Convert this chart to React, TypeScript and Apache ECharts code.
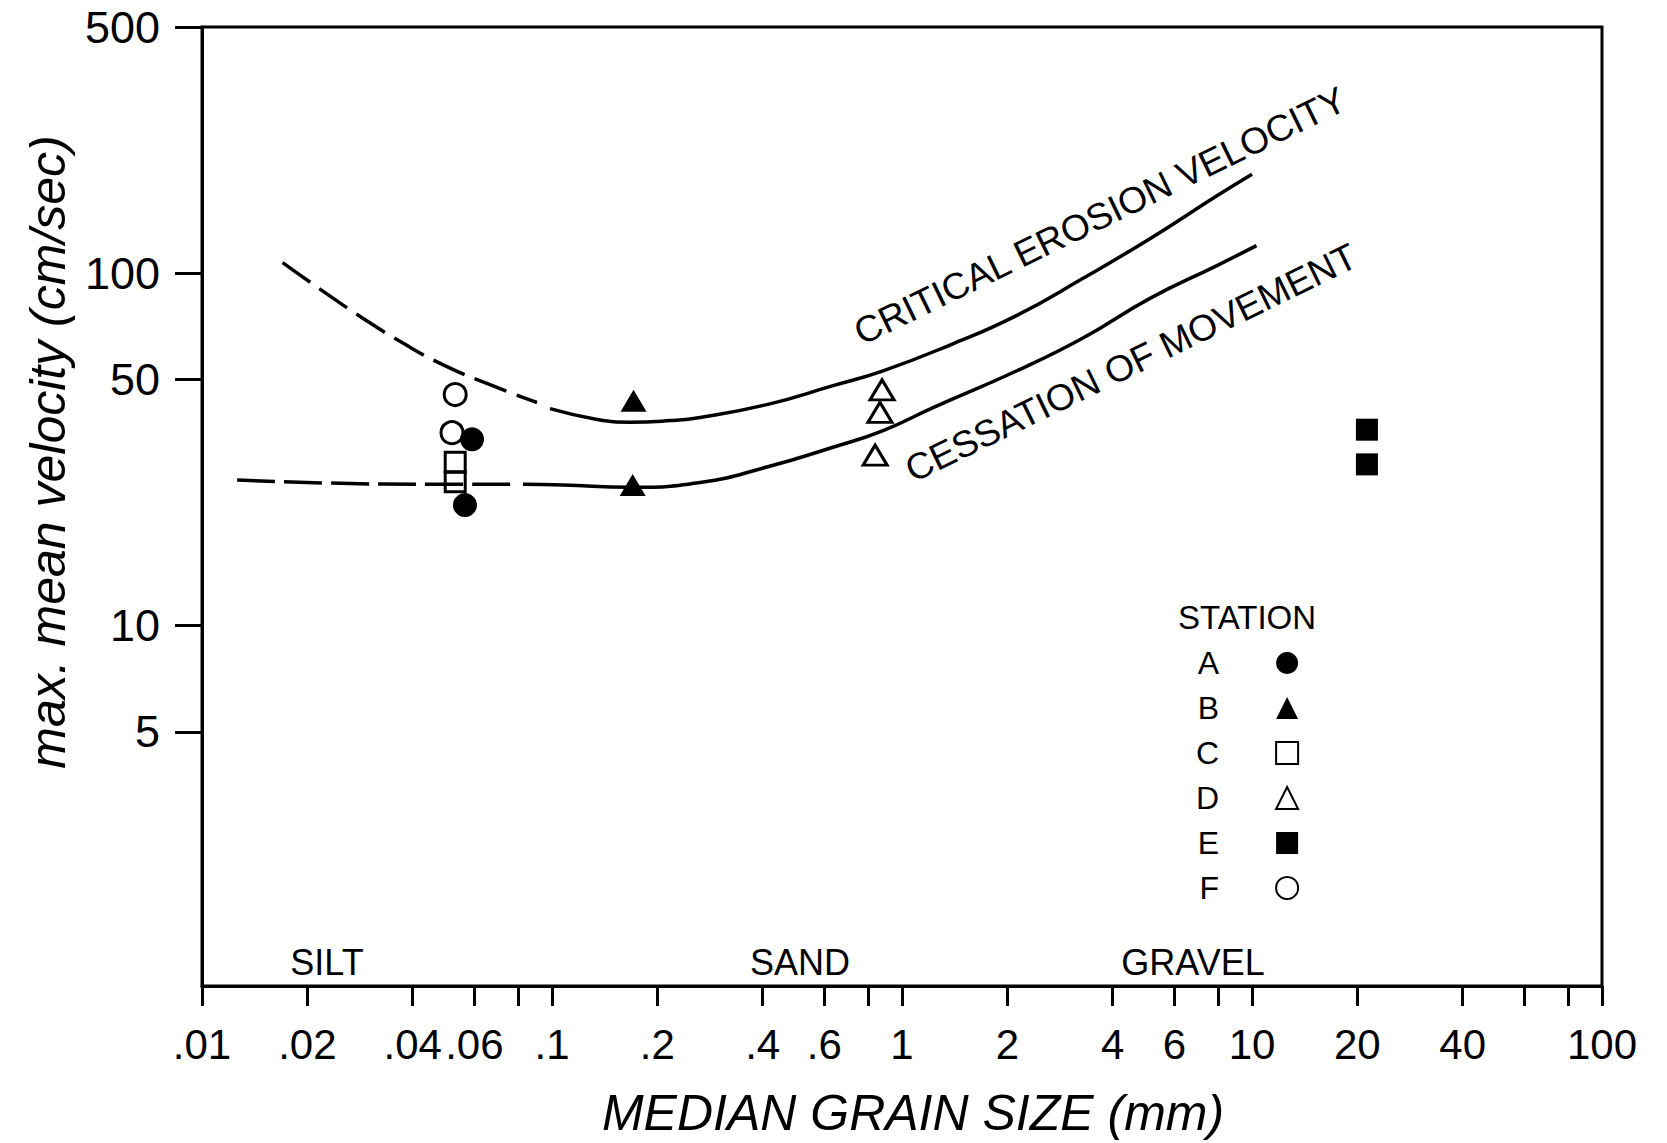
import React, { useEffect, useRef } from "react";
import * as echarts from "echarts";

// ---- Axis ticks / labels ----
const xTickValues = [0.01, 0.02, 0.04, 0.06, 0.08, 0.1, 0.2, 0.4, 0.6, 0.8, 1, 2, 4, 6, 8, 10, 20, 40, 60, 80, 100];
const xLabelValues = [0.01, 0.02, 0.04, 0.06, 0.1, 0.2, 0.4, 0.6, 1, 2, 4, 6, 10, 20, 40, 100];
const yTickValues = [5, 10, 50, 100, 500];

// ---- Station observations [median grain size mm, max mean velocity cm/s] ----
const stationA = [[0.0591, 33.8], [0.0564, 22.0]];
const stationB = [[0.171, 43.5], [0.170, 25.1]];
const stationC = [[0.0529, 29.1], [0.0529, 25.6]];
const stationD = [[0.877, 46.7], [0.865, 40.3], [0.838, 30.5]];
const stationE = [[21.3, 36.0], [21.3, 28.7]];
const stationF = [[0.0529, 45.3], [0.0518, 35.3]];

// ---- Curves ----
const erosionDashed = [[0.017, 107.3], [0.0222, 88.9], [0.0288, 74.6], [0.0375, 63.4], [0.0489, 55.0], [0.0665, 48.3], [0.0906, 43.0]];
const erosionSolid = [[0.0987, 41.3], [0.1345, 38.5], [0.167, 37.8], [0.217, 38.2], [0.265, 39.0], [0.411, 42.4], [0.635, 48.0], [0.883, 52.9], [1.371, 62.6], [2.13, 76.0], [3.29, 96.8], [5.11, 125.4], [7.94, 165.9], [10.0, 191]];
const cessationDashed = [[0.0126, 25.9], [0.0232, 25.4], [0.0448, 25.2], [0.080, 25.2]];
const cessationSolid = [[0.0826, 25.2], [0.1074, 25.1], [0.167, 24.7], [0.265, 25.5], [0.411, 28.2], [0.635, 32.1], [0.883, 35.8], [1.227, 41.6], [2.13, 52.9], [3.29, 65.5], [5.11, 84.9], [7.94, 105.2], [10.3, 119.8]];

const stationNames = ["A", "B", "C", "D", "E", "F"];

const FONT = '"Liberation Sans", Arial, Helvetica, sans-serif';
const BLACK = "#000";
const OPEN = { color: "rgba(255,255,255,0)", borderColor: BLACK, borderWidth: 3, opacity: 1 };
const FILLED = { color: BLACK, borderColor: BLACK, borderWidth: 0, opacity: 1 };

function fmtX(v: number) {
  const n = Number(Number(v).toPrecision(4));
  return n < 1 ? String(n).replace(/^0/, "") : String(n);
}

function txt(x: number, y: number, text: string, size: number, extra: any = {}) {
  return {
    type: "text",
    x,
    y,
    rotation: extra.rotation || 0,
    silent: true,
    style: {
      text,
      fill: BLACK,
      fontFamily: FONT,
      fontSize: size,
      fontStyle: extra.italic ? "italic" : "normal",
      align: "center",
      verticalAlign: "middle",
      textAlign: "center",
      textVerticalAlign: "middle",
    },
  };
}

export default function App() {
  const ref = useRef<HTMLDivElement>(null);
  useEffect(() => {
    const chart = echarts.init(ref.current!, null, { renderer: "svg" });
    const lineBase = {
      type: "line",
      symbol: "none",
      smooth: 0.5,
      silent: true,
      z: 2,
    };
    const scatterBase = { type: "scatter", z: 3, emphasis: { disabled: true }, silent: true };
    const option: any = {
      animation: false,
      backgroundColor: "#fff",
      grid: { left: 202, right: 65, top: 27, bottom: 151, show: true, borderColor: BLACK, borderWidth: 3, backgroundColor: "transparent" },
      xAxis: {
        type: "log",
        logBase: 10,
        min: 0.01,
        max: 100,
        name: "MEDIAN GRAIN SIZE (mm)",
        nameLocation: "middle",
        nameGap: 102,
        nameTextStyle: { fontFamily: FONT, fontSize: 50, fontStyle: "italic", color: BLACK, padding: [0, 0, 0, 22] },
        axisLine: { show: true, lineStyle: { color: BLACK, width: 3 } },
        axisTick: { show: true, inside: false, length: 20, lineStyle: { color: BLACK, width: 3 }, customValues: xTickValues },
        axisLabel: { customValues: xLabelValues, formatter: (v: number) => fmtX(v), margin: 37, fontSize: 42, color: BLACK, fontFamily: FONT },
        splitLine: { show: false },
        minorTick: { show: false },
        minorSplitLine: { show: false },
      },
      yAxis: {
        type: "log",
        logBase: 10,
        min: 0.95,
        max: 500,
        axisLine: { show: true, lineStyle: { color: BLACK, width: 3 } },
        axisTick: { show: true, inside: false, length: 27, lineStyle: { color: BLACK, width: 3 }, customValues: yTickValues },
        axisLabel: { customValues: yTickValues, formatter: (v: number) => String(Math.round(v)), margin: 42, fontSize: 45, color: BLACK, fontFamily: FONT },
        splitLine: { show: false },
        minorTick: { show: false },
        minorSplitLine: { show: false },
      },
      legend: {
        data: stationNames,
        orient: "vertical",
        left: 1191,
        top: 641,
        align: "right",
        itemWidth: 22,
        itemHeight: 22,
        itemGap: 11,
        selectedMode: false,
        textStyle: { fontFamily: FONT, fontSize: 32, lineHeight: 34, color: BLACK, padding: [0, 52, 0, 0] },
      },
      graphic: [
        txt(48, 452, "max. mean velocity (cm/sec)", 50, { rotation: Math.PI / 2, italic: true }),
        txt(327, 962, "SILT", 36),
        txt(800, 962, "SAND", 36),
        txt(1193, 962, "GRAVEL", 36),
        txt(1247, 617, "STATION", 33),
        txt(1100, 216, "CRITICAL EROSION VELOCITY", 37, { rotation: (26 * Math.PI) / 180 }),
        txt(1131, 363, "CESSATION OF MOVEMENT", 37, { rotation: (26 * Math.PI) / 180 }),
      ],
      series: [
        { ...lineBase, name: "Critical erosion velocity (extrapolated)", data: erosionDashed, lineStyle: { color: BLACK, width: 3.5, type: [34, 11] } },
        { ...lineBase, name: "Critical erosion velocity", data: erosionSolid, lineStyle: { color: BLACK, width: 3.5 } },
        { ...lineBase, name: "Cessation of movement (extrapolated)", data: cessationDashed, lineStyle: { color: BLACK, width: 3.5, type: [38, 9] } },
        { ...lineBase, name: "Cessation of movement", data: cessationSolid, lineStyle: { color: BLACK, width: 3.5 } },
        { ...scatterBase, name: "A", data: stationA, symbol: "circle", symbolSize: 24, itemStyle: FILLED },
        { ...scatterBase, name: "B", data: stationB, symbol: "triangle", symbolSize: [26, 22], itemStyle: FILLED },
        { ...scatterBase, name: "C", data: stationC, symbol: "rect", symbolSize: 20, itemStyle: OPEN },
        { ...scatterBase, name: "D", data: stationD, symbol: "triangle", symbolSize: [24, 20], itemStyle: OPEN },
        { ...scatterBase, name: "E", data: stationE, symbol: "rect", symbolSize: 22, itemStyle: FILLED },
        { ...scatterBase, name: "F", data: stationF, symbol: "circle", symbolSize: 22, itemStyle: OPEN },
      ],
    };
    chart.setOption(option);
    return () => chart.dispose();
  }, []);
  return (
    <div
      ref={ref}
      style={{ position: "fixed", left: 0, top: 0, width: 1667, height: 1143, background: "#fff" }}
    />
  );
}
